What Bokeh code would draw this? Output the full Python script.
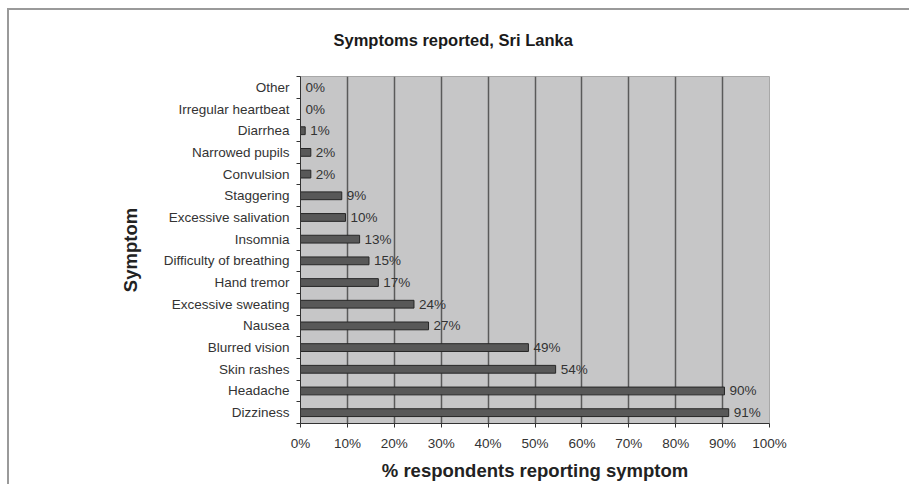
from bokeh.plotting import figure
from bokeh.models import Range1d, FixedTicker, PrintfTickFormatter, ColumnDataSource
from bokeh.embed import file_html
from bokeh.resources import INLINE

# Data (bottom to top)
symptoms = ["Dizziness", "Headache", "Skin rashes", "Blurred vision", "Nausea",
            "Excessive sweating", "Hand tremor", "Difficulty of breathing", "Insomnia",
            "Excessive salivation", "Staggering", "Convulsion", "Narrowed pupils",
            "Diarrhea", "Irregular heartbeat", "Other"]
values = [91.3, 90.4, 54.4, 48.6, 27.3, 24.2, 16.6, 14.6, 12.6, 9.6, 8.8, 2.2, 2.2, 1.0, 0.0, 0.0]
pct_labels = ["91%", "90%", "54%", "49%", "27%", "24%", "17%", "15%", "13%", "10%",
              "9%", "2%", "2%", "1%", "0%", "0%"]
x_ticks = [0, 10, 20, 30, 40, 50, 60, 70, 80, 90, 100]

pos = list(range(len(symptoms)))
src = ColumnDataSource(dict(y=pos, v=values, lab=pct_labels))

FONT = "Liberation Sans"

p = figure(width=909, height=484, output_backend="svg", toolbar_location=None,
           x_range=Range1d(0, 100), y_range=Range1d(-0.5, len(symptoms) - 0.5),
           min_border_left=300, min_border_right=140, min_border_top=76, min_border_bottom=61,
           title="Symptoms reported, Sri Lanka")

# outer frame of the chart sheet (grey lines along top and left), drawn by CSS behind a transparent border
p.border_fill_color = None
p.styles = {
    "background": ("linear-gradient(#9a9a9a, #9a9a9a) 7px 8px / 2px 100% no-repeat, "
                   "linear-gradient(#9a9a9a, #9a9a9a) 7px 8px / 100% 2px no-repeat, white"),
}

p.title.text_font = FONT
p.title.text_font_size = "16.5px"
p.title.text_font_style = "bold"
p.title.text_color = "#1a1a1a"
p.title.align = "left"
p.title.offset = 33
p.title.standoff = 55

p.background_fill_color = "#c6c6c7"
p.outline_line_color = "#a8a8a8"
p.outline_line_width = 1

# grid
p.ygrid.grid_line_color = None
p.xgrid.ticker = FixedTicker(ticks=x_ticks)
p.xgrid.grid_line_color = "#5a5a5a"
p.xgrid.grid_line_width = 1.5

# bars
p.hbar(y="y", right="v", left=0, height=0.36, source=src,
       fill_color="#585858", line_color="#262626", line_width=1)

# value labels
p.text(x="v", y="y", text="lab", source=src, x_offset=5,
       text_baseline="middle", text_align="left",
       text_font={"value": FONT}, text_font_size="13.5px", text_color="#333333")

# x axis
xa = p.xaxis[0]
xa.ticker = FixedTicker(ticks=x_ticks)
xa.formatter = PrintfTickFormatter(format="%d%%")
xa.axis_line_color = "#333333"
xa.major_tick_line_color = "#333333"
xa.major_tick_out = 4
xa.major_tick_in = 0
xa.minor_tick_line_color = None
xa.major_label_text_font = FONT
xa.major_label_text_font_size = "13.5px"
xa.major_label_text_color = "#333333"
xa.major_label_standoff = 8
xa.axis_label = "% respondents reporting symptom"
xa.axis_label_text_font = FONT
xa.axis_label_text_font_size = "18.5px"
xa.axis_label_text_font_style = "bold"
xa.axis_label_text_color = "#222222"
xa.axis_label_standoff = 6

# y axis
ya = p.yaxis[0]
ya.ticker = FixedTicker(ticks=pos, minor_ticks=[i - 0.5 for i in range(len(symptoms) + 1)])
ya.major_label_overrides = {i: s for i, s in enumerate(symptoms)}
ya.axis_line_color = "#333333"
ya.major_tick_line_color = None
ya.major_tick_out = 4
ya.major_tick_in = 0
ya.minor_tick_line_color = "#333333"
ya.minor_tick_out = 4
ya.minor_tick_in = 0
ya.major_label_text_font = FONT
ya.major_label_text_font_size = "13.5px"
ya.major_label_text_color = "#333333"
ya.major_label_standoff = 7
ya.axis_label = "Symptom"
ya.axis_label_text_font = FONT
ya.axis_label_text_font_size = "18.5px"
ya.axis_label_text_font_style = "bold"
ya.axis_label_text_color = "#222222"
ya.axis_label_standoff = 20

open("out.html", "w").write(file_html(p, INLINE))
